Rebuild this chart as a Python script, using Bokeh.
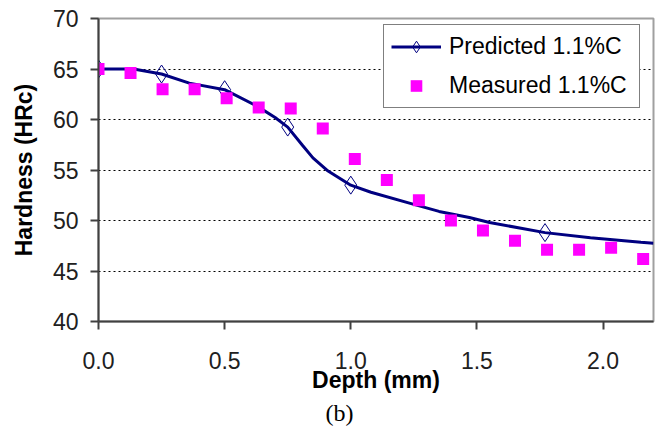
from bokeh.plotting import figure
from bokeh.models import FixedTicker, Title, Legend, LegendItem
from bokeh.embed import file_html
from bokeh.resources import INLINE

# ---- data ----
measured_depth = [0.0, 0.127, 0.254, 0.381, 0.508, 0.635, 0.762, 0.889, 1.016,
                  1.143, 1.270, 1.397, 1.524, 1.651, 1.778, 1.905, 2.032, 2.159]
measured_hrc = [65.0, 64.6, 63.0, 63.0, 62.1, 61.2, 61.1, 59.1, 56.1,
                54.0, 52.0, 50.0, 49.0, 48.0, 47.1, 47.1, 47.3, 46.2]

predicted_depth = [0.0, 0.10, 0.15, 0.25, 0.36, 0.50, 0.63, 0.70, 0.75, 0.81,
                   0.85, 0.91, 1.00, 1.08, 1.25, 1.35, 1.47, 1.55, 1.77, 1.95,
                   2.15, 2.20]
predicted_hrc = [65.0, 65.0, 64.95, 64.5, 63.6, 62.95, 61.3, 60.2, 59.25, 57.4,
                 56.2, 54.9, 53.5, 52.8, 51.6, 50.9, 50.3, 49.8, 48.8, 48.3,
                 47.85, 47.75]

predicted_marker_depth = [0.0, 0.25, 0.50, 0.75, 1.00, 1.77]
predicted_marker_hrc = [65.0, 64.5, 62.95, 59.25, 53.5, 48.8]

x_ticks = [0.0, 0.5, 1.0, 1.5, 2.0]
x_tick_labels = ["0.0", "0.5", "1.0", "1.5", "2.0"]
y_ticks = [40, 45, 50, 55, 60, 65, 70]
y_grid = [45, 50, 55, 60, 65]

FONT = "Liberation Sans"

p = figure(width=658, height=427, x_range=(0, 2.2), y_range=(40, 70),
           output_backend="svg", toolbar_location=None,
           min_border_left=98, min_border_right=5, min_border_top=18,
           min_border_bottom=103)
p.background_fill_color = "white"
p.border_fill_color = "white"
p.outline_line_color = "#a0a0a0"
p.outline_line_width = 2

# grid
p.xgrid.visible = False
p.ygrid.ticker = FixedTicker(ticks=y_grid)
p.ygrid.grid_line_color = "black"
p.ygrid.grid_line_dash = "2 3"
p.ygrid.grid_line_width = 1

# axes
for ax in (p.xaxis[0], p.yaxis[0]):
    ax.axis_line_color = "#404040"
    ax.axis_line_width = 2
    ax.major_tick_line_color = "#404040"
    ax.major_tick_line_width = 2
    ax.major_tick_out = 8
    ax.major_tick_in = 0
    ax.minor_tick_line_color = None
    ax.major_label_text_font = FONT
    ax.major_label_text_font_size = "23px"
    ax.major_label_text_color = "#202020"
    ax.axis_label_text_font = FONT
    ax.axis_label_text_font_size = "23px"
    ax.axis_label_text_font_style = "bold"
    ax.axis_label_text_color = "black"

p.xaxis.ticker = FixedTicker(ticks=x_ticks)
p.xaxis.major_label_overrides = {t: l for t, l in zip(x_ticks, x_tick_labels)}
p.xaxis.axis_label = "Depth (mm)"
p.xaxis.major_label_standoff = 22
p.xaxis.axis_label_standoff = -5

p.yaxis.ticker = FixedTicker(ticks=y_ticks)
p.yaxis.axis_label = "Hardness (HRc)"
p.yaxis.major_label_standoff = 12
p.yaxis.axis_label_standoff = 13

# series
line_r = p.line(predicted_depth, predicted_hrc, line_color="#000080", line_width=3)
diam_r = p.scatter(predicted_marker_depth, predicted_marker_hrc, marker="diamond",
                   size=18, line_color="#000080", line_width=1, fill_alpha=0)
sq_r = p.scatter(measured_depth, measured_hrc, marker="square", size=12,
                 fill_color="#ff00ff", line_color=None)

legend = Legend(items=[
    LegendItem(label="Predicted 1.1%C", renderers=[line_r, diam_r]),
    LegendItem(label="Measured 1.1%C", renderers=[sq_r]),
], location=(285, 213))
legend.label_text_font = FONT
legend.label_text_font_size = "23px"
legend.label_text_color = "black"
legend.glyph_width = 50
legend.glyph_height = 29
legend.label_height = 29
legend.label_width = 183
legend.label_standoff = 8
legend.spacing = 10
legend.padding = 7
legend.margin = 0
legend.border_line_color = "black"
legend.border_line_width = 1.5
legend.background_fill_color = "white"
legend.background_fill_alpha = 1
p.add_layout(legend)

cap = Title(text="(b)", align="left", offset=227, standoff=4,
            text_font="Liberation Serif", text_font_size="24px",
            text_font_style="normal", text_color="black")
p.add_layout(cap, "below")

open("out.html", "w").write(file_html(p, INLINE))
